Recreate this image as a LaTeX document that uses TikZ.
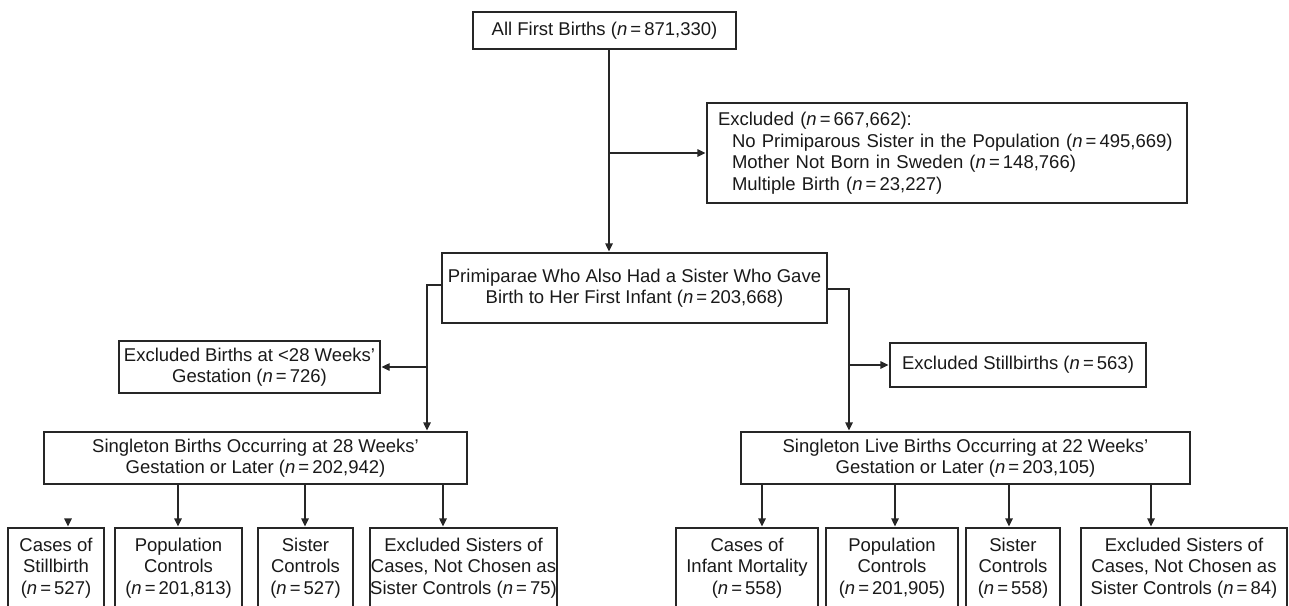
\documentclass[tikz,border=0pt]{standalone}
\usepackage{fontspec}
\setmainfont{Liberation Sans}
\usetikzlibrary{arrows.meta}
\newcommand{\nval}[1]{\textit{n}\,=\,#1}
\begin{document}
\begin{tikzpicture}[x=1pt,y=-1pt,
  box/.style={draw=black!85, line width=1.2pt, inner sep=0pt, align=center,
    font=\fontsize{18.5}{21.5}\selectfont, text=black!90},
  arr/.style={draw=black!85, line width=1.2pt, -{Triangle[length=8pt,width=7.5pt]}, shorten >=1pt},
  ln/.style={draw=black!85, line width=1.2pt}]
\useasboundingbox (0,0) rectangle (1289,605);
\clip (0,0) rectangle (1289,605);
% main boxes
\node[box, minimum width=263pt, minimum height=37pt] (top) at (604.5,30.5) {All First Births (\nval{871,330})};
\node[box, minimum width=480pt, minimum height=100pt, align=left, text width=458pt] (excl) at (947,153)
  {Excluded (\nval{667,662}):\\
   \hspace*{14pt}No Primiparous Sister in the Population (\nval{495,669})\\
   \hspace*{14pt}Mother Not Born in Sweden (\nval{148,766})\\
   \hspace*{14pt}Multiple Birth (\nval{23,227})};
\node[box, minimum width=385pt, minimum height=70pt] (mid) at (634.5,288)
  {Primiparae Who Also Had a Sister Who Gave\\Birth to Her First Infant (\nval{203,668})};
\node[box, minimum width=261pt, minimum height=52pt] (ex28) at (249.5,367)
  {Excluded Births at <28 Weeks’\\Gestation (\nval{726})};
\node[box, minimum width=256pt, minimum height=44pt] (still) at (1018,365)
  {Excluded Stillbirths (\nval{563})};
\node[box, minimum width=423pt, minimum height=52pt] (sL) at (255.5,458)
  {Singleton Births Occurring at 28 Weeks’\\Gestation or Later (\nval{202,942})};
\node[box, minimum width=449pt, minimum height=52pt] (sR) at (965.5,458)
  {Singleton Live Births Occurring at 22 Weeks’\\Gestation or Later (\nval{203,105})};
% bottom boxes
\node[box, minimum width=96pt, minimum height=80pt] (bL1) at (56,568) {Cases of\\Stillbirth\\(\nval{527})};
\node[box, minimum width=127pt, minimum height=80pt] (bL2) at (178.5,568) {Population\\Controls\\(\nval{201,813})};
\node[box, minimum width=95pt, minimum height=80pt] (bL3) at (305.5,568) {Sister\\Controls\\(\nval{527})};
\node[box, minimum width=187pt, minimum height=80pt] (bL4) at (463.5,568) {Excluded Sisters of\\Cases, Not Chosen as\\Sister Controls (\nval{75})};
\node[box, minimum width=142pt, minimum height=80pt] (bR1) at (747,568) {Cases of\\Infant Mortality\\(\nval{558})};
\node[box, minimum width=132pt, minimum height=80pt] (bR2) at (892,568) {Population\\Controls\\(\nval{201,905})};
\node[box, minimum width=94pt, minimum height=80pt] (bR3) at (1013,568) {Sister\\Controls\\(\nval{558})};
\node[box, minimum width=206pt, minimum height=80pt] (bR4) at (1184,568) {Excluded Sisters of\\Cases, Not Chosen as\\Sister Controls (\nval{84})};
% connector coordinates
\coordinate (v1) at (609,0);
\coordinate (vL) at (427,285);
\coordinate (vR) at (849,289);
\coordinate (s1) at (68,519);
\coordinate (a2) at (178,0);
\coordinate (a3) at (305,0);
\coordinate (a4) at (443,0);
\coordinate (r1) at (762,0);
\coordinate (r2) at (895,0);
\coordinate (r3) at (1009,0);
\coordinate (r4) at (1151,0);
% connectors
\draw[arr] (top.south -| v1) -- (mid.north -| v1);
\draw[arr] (v1 |- excl.west) -- (excl.west);
\draw[arr] (mid.west |- vL) -- (vL) -- (sL.north -| vL);
\draw[arr] (vL |- ex28.east) -- (ex28.east);
\draw[arr] (mid.east |- vR) -- (vR) -- (sR.north -| vR);
\draw[arr] (vR |- still.west) -- (still.west);
\draw[arr] (s1) -- (bL1.north -| s1);
\draw[arr] (sL.south -| a2) -- (bL2.north -| a2);
\draw[arr] (sL.south -| a3) -- (bL3.north -| a3);
\draw[arr] (sL.south -| a4) -- (bL4.north -| a4);
\draw[arr] (sR.south -| r1) -- (bR1.north -| r1);
\draw[arr] (sR.south -| r2) -- (bR2.north -| r2);
\draw[arr] (sR.south -| r3) -- (bR3.north -| r3);
\draw[arr] (sR.south -| r4) -- (bR4.north -| r4);
\end{tikzpicture}
\end{document}
